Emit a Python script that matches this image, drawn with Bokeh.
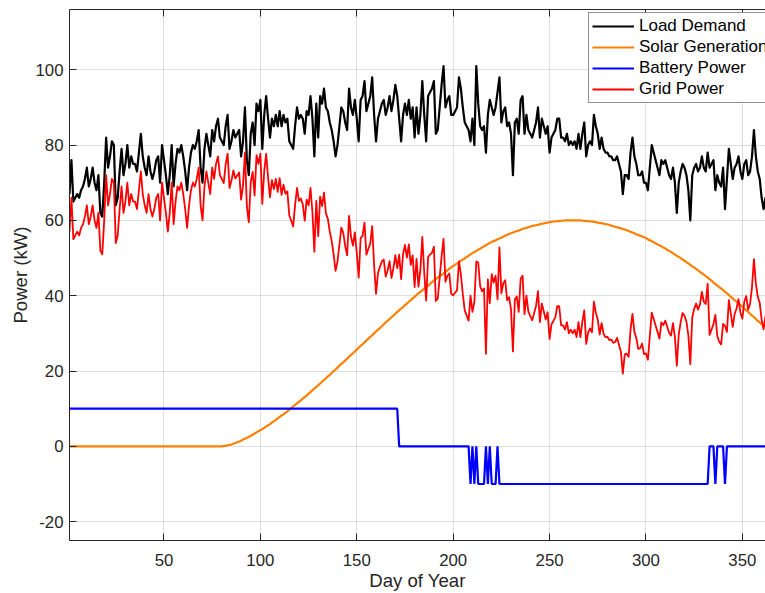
from bokeh.plotting import figure
from bokeh.models import LinearAxis, SingleIntervalTicker, Range1d, PrintfTickFormatter
from bokeh.embed import file_html
from bokeh.resources import INLINE

# ---------------- data ----------------
days = list(range(1, 366))

load_demand_kw = [
    67, 76, 65, 66, 67, 66, 68, 69, 71, 74,
    69, 71, 74, 70, 68, 72, 62, 61, 70, 82,
    74, 77, 81, 80, 64, 66, 73, 79, 72, 75,
    80, 74, 77, 75, 75, 73, 78, 83, 77, 74,
    72, 77, 73, 71, 73, 76, 77, 70, 80, 76,
    72, 67, 72, 80, 69, 75, 79, 78, 80, 77,
    73, 68, 74, 78, 80, 79, 81, 84, 74, 70,
    79, 83, 80, 77, 84, 81, 85, 87, 82, 81,
    80, 85, 88, 79, 81, 84, 82, 83, 84, 77,
    81, 90, 76, 72, 83, 86, 80, 91, 89, 92,
    79, 88, 93, 87, 82, 87, 85, 88, 85, 89,
    85, 88, 86, 87, 81, 80, 79, 85, 90, 87,
    88, 87, 83, 89, 88, 93, 87, 77, 91, 82,
    93, 91, 95, 90, 89, 86, 84, 81, 77, 80,
    85, 90, 89, 86, 84, 95, 90, 88, 92, 87,
    81, 92, 93, 97, 89, 91, 93, 98, 88, 81,
    87, 89, 91, 92, 88, 90, 93, 89, 92, 96,
    93, 87, 81, 88, 91, 88, 92, 87, 90, 82,
    90, 83, 88, 97, 88, 81, 93, 94, 95, 97,
    83, 84, 90, 96, 101, 90, 92, 93, 88, 88,
    89, 90, 98, 95, 90, 86, 85, 84, 81, 87,
    80, 101, 91, 85, 84, 85, 78, 88, 92, 90,
    88, 90, 94, 98, 86, 89, 90, 85, 86, 83,
    72, 86, 87, 83, 92, 93, 83, 88, 84, 83,
    82, 84, 86, 90, 82, 87, 85, 83, 85, 78,
    82, 83, 84, 87, 87, 82, 82, 81, 83, 80,
    81, 80, 81, 79, 83, 79, 83, 86, 77, 80,
    81, 80, 88, 85, 83, 79, 82, 79, 78, 78,
    77, 77, 76, 76, 77, 75, 73, 67, 72, 72,
    71, 78, 82, 77, 75, 72, 72, 73, 70, 70,
    68, 74, 80, 78, 76, 74, 72, 76, 75, 76,
    74, 72, 71, 74, 70, 62, 70, 73, 75, 74,
    72, 68, 60, 72, 74, 75, 73, 74, 77, 74,
    73, 78, 74, 75, 76, 68, 72, 70, 69, 74,
    63, 71, 79, 75, 71, 74, 75, 77, 73, 71,
    75, 76, 72, 73, 77, 84, 77, 73, 71, 66,
    63, 66, 64, 66, 65,
]

solar_days = [1] + list(range(80, 366))
solar_generation_kw = [
    0.0, 0.0,
    0.1, 0.1, 0.3, 0.4, 0.5, 0.7, 0.9, 1.1, 1.3, 1.5,
    1.8, 2.0, 2.3, 2.5, 2.8, 3.1, 3.4, 3.7, 4.0, 4.3,
    4.6, 4.9, 5.3, 5.6, 5.9, 6.3, 6.7, 7.0, 7.4, 7.8,
    8.2, 8.5, 8.9, 9.3, 9.7, 10.1, 10.6, 11.0, 11.4, 11.8,
    12.2, 12.7, 13.1, 13.5, 14.0, 14.4, 14.9, 15.3, 15.8, 16.2,
    16.7, 17.2, 17.6, 18.1, 18.6, 19.0, 19.5, 20.0, 20.4, 20.9,
    21.4, 21.9, 22.3, 22.8, 23.3, 23.8, 24.3, 24.7, 25.2, 25.7,
    26.2, 26.7, 27.1, 27.6, 28.1, 28.6, 29.1, 29.5, 30.0, 30.5,
    31.0, 31.4, 31.9, 32.4, 32.9, 33.3, 33.8, 34.3, 34.7, 35.2,
    35.7, 36.1, 36.6, 37.0, 37.5, 37.9, 38.4, 38.8, 39.3, 39.7,
    40.2, 40.6, 41.0, 41.4, 41.9, 42.3, 42.7, 43.1, 43.6, 44.0,
    44.4, 44.8, 45.2, 45.5, 45.9, 46.3, 46.7, 47.1, 47.5, 47.9,
    48.2, 48.6, 48.9, 49.3, 49.6, 49.9, 50.3, 50.6, 51.0, 51.3,
    51.6, 51.9, 52.2, 52.5, 52.8, 53.1, 53.4, 53.7, 54.0, 54.3,
    54.5, 54.7, 55.0, 55.2, 55.4, 55.7, 55.9, 56.2, 56.4, 56.6,
    56.8, 57.0, 57.2, 57.3, 57.5, 57.7, 57.9, 58.0, 58.2, 58.4,
    58.5, 58.6, 58.7, 58.8, 59.0, 59.1, 59.2, 59.3, 59.4, 59.5,
    59.6, 59.7, 59.7, 59.8, 59.8, 59.9, 59.9, 60.0, 60.0, 60.0,
    60.0, 60.0, 60.0, 60.0, 60.0, 60.0, 59.9, 59.9, 59.8, 59.8,
    59.7, 59.7, 59.6, 59.5, 59.4, 59.3, 59.3, 59.1, 59.0, 58.9,
    58.8, 58.6, 58.5, 58.3, 58.2, 58.0, 57.9, 57.7, 57.6, 57.4,
    57.2, 57.0, 56.8, 56.6, 56.3, 56.1, 55.9, 55.7, 55.5, 55.3,
    55.0, 54.7, 54.5, 54.2, 53.9, 53.6, 53.4, 53.1, 52.8, 52.6,
    52.2, 51.9, 51.6, 51.3, 50.9, 50.6, 50.3, 50.0, 49.6, 49.3,
    48.9, 48.6, 48.2, 47.8, 47.5, 47.1, 46.7, 46.3, 46.0, 45.6,
    45.2, 44.8, 44.4, 44.0, 43.5, 43.1, 42.7, 42.3, 41.9, 41.5,
    41.0, 40.6, 40.2, 39.7, 39.3, 38.8, 38.4, 37.9, 37.5, 37.1,
    36.6, 36.1, 35.7, 35.2, 34.7, 34.3, 33.8, 33.3, 32.9, 32.4,
    31.9, 31.5, 31.0, 30.5, 30.0,
]

battery_days = [1, 171, 172, 208, 209, 210, 211, 212, 213, 216, 217, 218, 219,
                220, 222, 223, 224, 332, 333, 335, 336, 337, 340, 341, 342, 365]
battery_power_kw = [10, 10, 0, 0, -10, 0, -10, 0, -10, -10, 0, -10, 0,
                    -10, -10, 0, -10, -10, 0, 0, -10, 0, 0, -10, 0, 0]

grid_power_kw = [
    57, 66, 55, 56, 57, 56, 58, 59, 61, 64,
    59, 61, 64, 60, 58, 62, 52, 51, 60, 72,
    64, 67, 71, 70, 54, 56, 63, 69, 62, 65,
    70, 64, 67, 65, 65, 63, 68, 73, 67, 64,
    62, 67, 63, 61, 63, 66, 67, 60, 70, 66,
    62, 57, 62, 70, 59, 65, 69, 68, 70, 67,
    63, 58, 64, 68, 70, 69, 71, 74, 64, 60,
    69, 73, 70, 67, 74, 71, 75, 77, 72, 71,
    69.9, 74.9, 77.7, 68.6, 70.5, 73.3, 71.1, 71.9, 72.7, 65.5,
    69.2, 78.0, 63.7, 59.5, 70.2, 72.9, 66.6, 77.3, 75.0, 77.7,
    64.4, 73.1, 77.7, 71.4, 66.1, 70.7, 68.3, 71.0, 67.6, 71.2,
    66.8, 69.5, 67.1, 67.7, 61.3, 59.9, 58.4, 64.0, 68.6, 65.2,
    65.8, 64.3, 59.9, 65.5, 64.0, 68.6, 62.1, 51.7, 65.2, 55.8,
    66.3, 63.8, 67.4, 61.9, 60.4, 57.0, 54.5, 51.0, 46.6, 49.1,
    53.6, 58.1, 56.7, 53.2, 50.7, 61.2, 55.7, 53.3, 56.8, 51.3,
    44.8, 55.3, 55.9, 59.4, 50.9, 52.4, 53.9, 58.5, 48.0, 40.5,
    46.0, 47.6, 49.1, 49.6, 45.1, 46.7, 49.2, 44.7, 47.3, 50.8,
    47.3, 50.9, 44.4, 51.0, 53.5, 50.1, 53.6, 48.2, 50.7, 42.3,
    49.8, 42.4, 47.0, 55.6, 46.1, 38.7, 50.3, 50.9, 51.4, 53.0,
    38.6, 39.2, 44.8, 50.5, 55.1, 43.7, 45.3, 45.9, 40.5, 40.1,
    40.8, 41.4, 49.1, 45.7, 40.4, 36.1, 34.7, 33.4, 40.0, 35.7,
    38.4, 49.1, 48.8, 42.5, 41.2, 41.9, 24.6, 44.3, 38.0, 45.7,
    43.5, 45.3, 39.0, 52.8, 40.6, 43.3, 44.1, 38.8, 39.6, 36.4,
    25.2, 39.0, 39.8, 35.7, 44.5, 45.3, 35.1, 40.0, 35.8, 34.6,
    33.5, 35.4, 37.3, 41.2, 33.0, 37.9, 35.8, 33.7, 35.6, 28.5,
    32.4, 33.3, 34.3, 37.2, 37.2, 32.1, 32.1, 31.0, 33.0, 30.0,
    31.0, 30.0, 31.0, 29.0, 33.0, 29.0, 33.1, 36.1, 27.2, 30.2,
    31.3, 30.3, 38.4, 35.5, 33.6, 29.7, 32.7, 29.9, 29.0, 29.1,
    28.2, 28.4, 27.5, 27.7, 28.8, 27.0, 25.1, 19.3, 24.4, 24.6,
    23.8, 31.0, 35.2, 30.4, 28.7, 25.9, 26.1, 27.3, 24.5, 24.7,
    23.0, 29.3, 35.5, 33.8, 32.1, 30.4, 28.6, 32.9, 32.2, 33.4,
    31.8, 30.1, 29.4, 32.7, 29.1, 21.4, 29.7, 33.0, 35.4, 34.7,
    33.1, 29.4, 21.8, 34.2, 36.5, 37.9, 36.3, 37.7, 41.0, 38.4,
    37.8, 43.2, 29.6, 31.0, 32.5, 34.9, 29.3, 27.7, 27.1, 32.5,
    32.0, 30.4, 38.8, 35.3, 31.7, 35.2, 36.6, 39.1, 35.5, 33.9,
    38.4, 39.9, 36.3, 37.8, 42.3, 49.7, 43.2, 39.7, 38.1, 33.6,
    31.1, 34.5, 33.0, 35.5, 35.0,
]

x_ticks_interval = 50
y_ticks_interval = 20

for name, xs, ys in [("load", days, load_demand_kw), ("solar", solar_days, solar_generation_kw),
                     ("battery", battery_days, battery_power_kw), ("grid", days, grid_power_kw)]:
    if len(xs) != len(ys):
        raise ValueError(f"{name}: {len(xs)} x vs {len(ys)} y")

# ---------------- figure ----------------
FONT = "Liberation Sans"
AX = "#262626"

p = figure(width=765, height=593, output_backend="svg", toolbar_location=None,
           x_range=Range1d(1, 362), y_range=Range1d(-25, 116),
           min_border_left=69, min_border_right=0, min_border_top=9, min_border_bottom=52)
p.outline_line_color = None
p.background_fill_color = "white"
p.border_fill_color = "white"

xt = SingleIntervalTicker(interval=x_ticks_interval, num_minor_ticks=0)
yt = SingleIntervalTicker(interval=y_ticks_interval, num_minor_ticks=0)
p.xaxis.ticker = xt
p.yaxis.ticker = yt
p.xgrid.ticker = xt
p.ygrid.ticker = yt
p.yaxis.formatter = PrintfTickFormatter(format="%d")
p.xaxis.formatter = PrintfTickFormatter(format="%d")
for g in (p.xgrid, p.ygrid):
    g.grid_line_color = AX
    g.grid_line_alpha = 0.15
    g.grid_line_width = 1

for ax in (p.xaxis[0], p.yaxis[0]):
    ax.axis_line_color = AX
    ax.axis_line_width = 1
    ax.major_tick_line_color = AX
    ax.major_tick_in = 7
    ax.major_tick_out = 0
    ax.minor_tick_line_color = None
    ax.major_label_text_font = FONT
    ax.major_label_text_font_size = "16.8px"
    ax.major_label_text_color = AX
    ax.axis_label_text_font = FONT
    ax.axis_label_text_font_size = "18.6px"
    ax.axis_label_text_font_style = "normal"
    ax.axis_label_text_color = AX

p.xaxis.axis_label = "Day of Year"
p.yaxis.axis_label = "Power (kW)"
p.xaxis.major_label_standoff = 13
p.xaxis.axis_label_standoff = 1
p.yaxis.major_label_standoff = 6
p.yaxis.axis_label_standoff = 2

top = LinearAxis(ticker=xt, axis_line_color=AX, major_tick_line_color=AX,
                 major_tick_in=7, major_tick_out=0, minor_tick_line_color=None,
                 major_label_text_color=None, major_label_text_font_size="1px",
                 major_label_standoff=0)
p.add_layout(top, "above")

p.line(days, load_demand_kw, color="#000000", line_width=2.2, line_join="round",
       legend_label="Load Demand")
p.line(solar_days, solar_generation_kw, color="#ff8000", line_width=2.2,
       legend_label="Solar Generation")
p.line(battery_days, battery_power_kw, color="#0000ff", line_width=2.2,
       legend_label="Battery Power")
p.line(days, grid_power_kw, color="#ff0000", line_width=1.8, line_join="round",
       legend_label="Grid Power")

lg = p.legend[0]
lg.location = (519, 437)
lg.margin = 0
lg.padding = 3
lg.spacing = 1
lg.glyph_width = 42
lg.glyph_height = 18
lg.label_height = 18
lg.label_standoff = 5
lg.label_text_font = FONT
lg.label_text_font_size = "17px"
lg.label_text_color = "#000000"
lg.border_line_color = AX
lg.border_line_width = 1
lg.background_fill_color = "white"
lg.background_fill_alpha = 1.0

open("out.html", "w").write(file_html(p, INLINE))
